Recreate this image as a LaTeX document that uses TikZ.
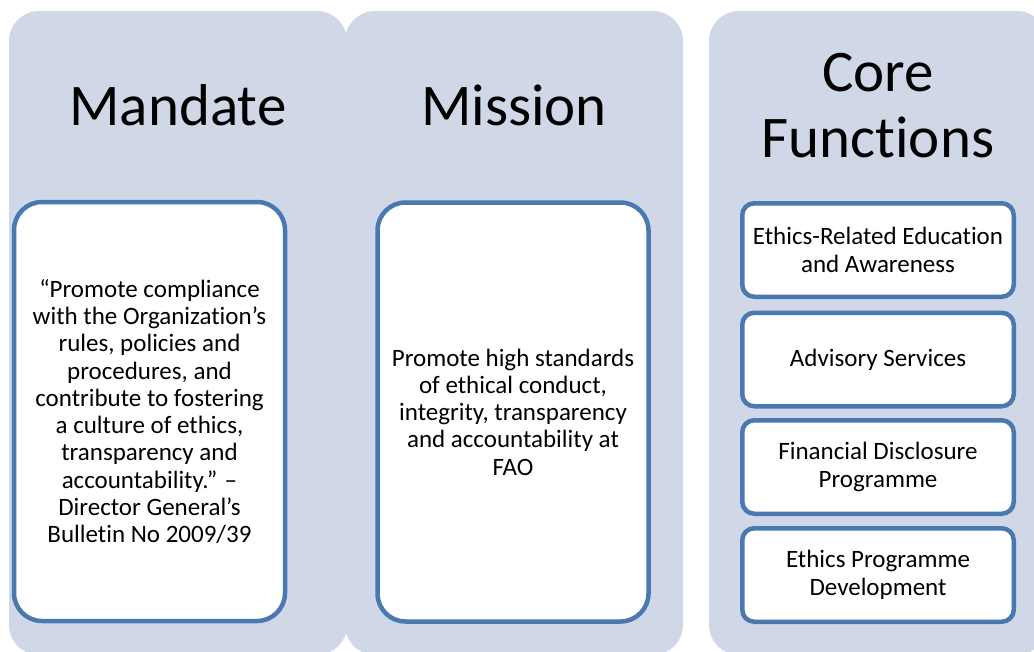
\documentclass[tikz,border=0pt]{standalone}
\usepackage{fontspec}
\setmainfont{Carlito}[Ligatures={NoCommon}]
\definecolor{panelfill}{HTML}{D0D8E8}
\definecolor{cardedge}{HTML}{4A78B0}
\begin{document}
\begin{tikzpicture}[x=1pt,y=-1pt,
  panelbox/.style={fill=panelfill, rounded corners=30pt},
  title/.style={font=\fontsize{59}{66}\selectfont, align=center, inner sep=0pt},
  bigcard/.style={draw=cardedge, line width=4.5pt, fill=white, rounded corners=28pt,
    align=center, inner sep=0pt, minimum width=271pt, minimum height=419pt,
    font=\fontsize{25}{27.3}\selectfont},
  smallcard/.style={draw=cardedge, line width=4.5pt, fill=white, rounded corners=12pt,
    align=center, inner sep=0pt, minimum width=271.5pt, minimum height=93.5pt,
    font=\fontsize{25}{27.6}\selectfont},
]
\clip (0,0) rectangle (1034,651);
% panels
\fill[panelbox] (9,11) rectangle (347,655);
\fill[panelbox] (345,11) rectangle (683,655);
\fill[panelbox] (709,11) rectangle (1047,655);
% titles
\node[title, anchor=base] (mandate) at (178,125) {Mandate};
\node[title, anchor=base] (mission) at (514,125) {Mission};
\node[title] (core) at (878,105.5) {Core\\Functions};
% left cards
\node[bigcard] (mandbox) at (149.5,411.5) {“Promote compliance\\with the Organization’s\\rules, policies and\\procedures, and\\contribute to fostering\\a culture of ethics,\\transparency and\\accountability.” –\\Director General’s\\Bulletin No 2009/39};
\node[bigcard] (missbox) at (513,412) {Promote high standards\\of ethical conduct,\\integrity, transparency\\and accountability at\\FAO};
% right cards
\node[smallcard] (f1) at (878,250) {Ethics-Related Education\\and Awareness};
\node[smallcard] (f2) at (878,359.5) {Advisory Services};
\node[smallcard] (f3) at (878,467) {Financial Disclosure\\Programme};
\node[smallcard] (f4) at (878,575) {Ethics Programme\\Development};
\end{tikzpicture}
\end{document}
